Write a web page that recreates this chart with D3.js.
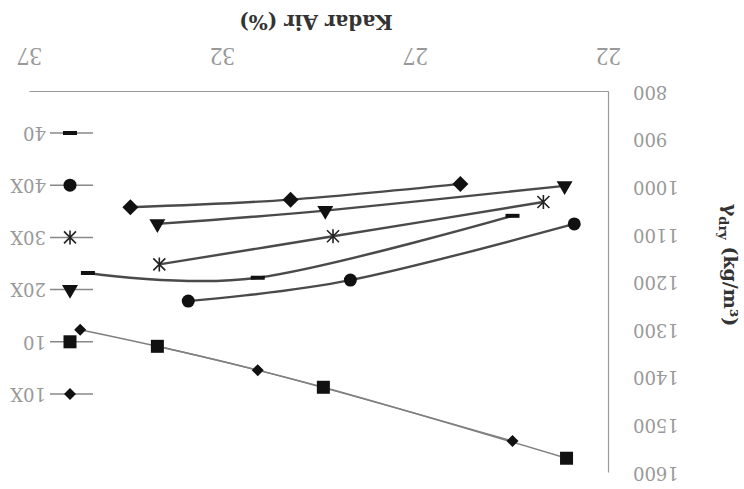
<!DOCTYPE html>
<meta charset="utf-8">
<head>
  <title>Kadar Air vs Berat Isi Kering</title>
</head>
<style>
body { margin: 0; background: #fff; }
.axis path { stroke: #999; stroke-width: 1.2px; }
.tick text { fill: #999; }
.curve { fill: none; stroke: #4a4a4a; stroke-width: 2.4px; }
.curve.low { stroke: #808080; stroke-width: 1.5px; }
.legend line { stroke: #888; stroke-width: 1.5px; }
.legend text { fill: #999; font-family: "DejaVu Serif"; font-size: 18px; }
</style>
<body>
<script src="https://d3js.org/d3.v7.min.js"></script>
<script>

// tick labels
var xTicks = [22, 27, 32, 37];
var yTicks = [800, 900, 1000, 1100, 1200, 1300, 1400, 1500, 1600];

// Kadar Air (%) and gamma dry (kg/m3) per series
var ka10X = [35.7, 31.1, 24.5];
var gd10X = [1299, 1384, 1533];
var ka10  = [33.7, 29.4, 23.1];
var gd10  = [1334, 1420, 1569];
var ka20X = [33.7, 29.35, 23.15];
var gd20X = [1077, 1049, 997];
var ka30X = [33.65, 29.15, 23.7];
var gd30X = [1162, 1103, 1031];
var ka40X = [32.9, 28.7, 22.9];
var gd40X = [1239, 1195, 1077];
var ka40  = [35.5, 31.1, 24.5];
var gd40  = [1180, 1190, 1060];
// extra series drawn without legend entry
var kaD   = [34.4, 30.25, 25.85];
var gdD   = [1042, 1026, 993];

var lines = [
  {name: "10X", ka: ka10X, gd: gd10X, marker: "diamondS", low: true,  legend: true},
  {name: "10",  ka: ka10,  gd: gd10,  marker: "square",   low: true,  legend: true},
  {name: "20X", ka: ka20X, gd: gd20X, marker: "triangle", low: false, legend: true},
  {name: "30X", ka: ka30X, gd: gd30X, marker: "star",     low: false, legend: true},
  {name: "40X", ka: ka40X, gd: gd40X, marker: "circle",   low: false, legend: true},
  {name: "40",  ka: ka40,  gd: gd40,  marker: "dash",     low: false, legend: true},
  {name: "",    ka: kaD,   gd: gdD,   marker: "diamond",  low: false, legend: false}
];

var W = 744, H = 489;

var x = d3.scaleLinear().domain([22, 37]).range([135, 714]);
var y = d3.scaleLinear().domain([800, 1600]).range([397, 16]);

var svg = d3.select("body").append("svg")
    .attr("width", W)
    .attr("height", H);

// the scanned figure is upside down, so draw normally and turn it round
var g = svg.append("g")
    .attr("transform", "rotate(180," + W / 2 + "," + H / 2 + ")");

// axes
g.append("g")
    .attr("class", "axis")
    .attr("transform", "translate(0," + y(800) + ")")
    .call(d3.axisBottom(x).tickValues(xTicks).tickSize(0).tickSizeOuter(0))
  .selectAll("text")
    .attr("y", 35)
    .attr("dy", "0.35em")
    .style("font-family", "Liberation Serif")
    .style("font-size", "25px");

g.append("g")
    .attr("class", "axis")
    .attr("transform", "translate(" + x(22) + ",0)")
    .call(d3.axisLeft(y).tickValues(yTicks).tickFormat(d3.format("d"))
            .tickSize(0).tickSizeOuter(0).tickPadding(24))
  .selectAll("text")
    .style("font-family", "DejaVu Serif")
    .style("font-size", "18px");

// axis titles
g.append("text")
    .attr("x", 428)
    .attr("y", 467)
    .attr("dy", "0.35em")
    .attr("text-anchor", "middle")
    .attr("fill", "#333")
    .style("font-family", "DejaVu Serif")
    .style("font-weight", "bold")
    .style("font-size", "20px")
    .text("Kadar Air (%)");

var yt = g.append("text")
    .attr("transform", "translate(13,224) rotate(-90)")
    .attr("dy", "0.35em")
    .attr("text-anchor", "middle")
    .attr("fill", "#333")
    .style("font-family", "DejaVu Serif")
    .style("font-weight", "bold")
    .style("font-size", "19px");
yt.append("tspan").text("\u03b3");
yt.append("tspan").attr("dy", 5).style("font-size", "13px").text("dry");
yt.append("tspan").attr("dy", -5).text(" (kg/m\u00b3)");

// markers
function drawMarker(sel, type, cx, cy) {
  if (type === "circle") {
    sel.append("circle").attr("cx", cx).attr("cy", cy).attr("r", 6.5).attr("fill", "#111");
  } else if (type === "square") {
    sel.append("rect").attr("x", cx - 6.5).attr("y", cy - 6.5)
        .attr("width", 13).attr("height", 13).attr("fill", "#111");
  } else if (type === "diamond" || type === "diamondS") {
    var r = type === "diamond" ? 8 : 6;
    sel.append("path")
        .attr("d", "M" + cx + "," + (cy - r) + "L" + (cx + r) + "," + cy +
                   "L" + cx + "," + (cy + r) + "L" + (cx - r) + "," + cy + "Z")
        .attr("fill", "#111");
  } else if (type === "triangle") {
    sel.append("path")
        .attr("d", d3.symbol().type(d3.symbolTriangle).size(110)())
        .attr("transform", "translate(" + cx + "," + cy + ")")
        .attr("fill", "#111");
  } else if (type === "star") {
    var s = 6;
    sel.append("path")
        .attr("d", "M" + (cx - s) + "," + (cy - s) + "L" + (cx + s) + "," + (cy + s) +
                   "M" + (cx - s) + "," + (cy + s) + "L" + (cx + s) + "," + (cy - s) +
                   "M" + cx + "," + (cy - s - 1) + "L" + cx + "," + (cy + s + 1))
        .attr("stroke", "#222").attr("stroke-width", 1.6).attr("fill", "none");
  } else if (type === "dash") {
    sel.append("rect").attr("x", cx - 7).attr("y", cy - 2)
        .attr("width", 14).attr("height", 4).attr("fill", "#111");
  }
}

var curve = d3.line()
    .curve(d3.curveCatmullRom.alpha(0))
    .x(function(d) { return x(d[0]); })
    .y(function(d) { return y(d[1]); });

lines.forEach(function(s) {
  var pts = s.ka.map(function(k, i) { return [k, s.gd[i]]; });
  g.append("path")
      .datum(pts)
      .attr("class", s.low ? "curve low" : "curve")
      .attr("d", curve);
});

lines.forEach(function(s) {
  var mg = g.append("g");
  s.ka.forEach(function(k, i) { drawMarker(mg, s.marker, x(k), y(s.gd[i])); });
});

// legend
var legend = g.append("g").attr("class", "legend");
var legendY = d3.scalePoint()
    .domain(lines.filter(function(s) { return s.legend; }).map(function(s) { return s.name; }))
    .range([95, 356]);

lines.filter(function(s) { return s.legend; }).forEach(function(s) {
  var ly = legendY(s.name);
  legend.append("line")
      .attr("x1", 651).attr("x2", 694)
      .attr("y1", ly).attr("y2", ly);
  drawMarker(legend, s.marker, 674, ly);
  legend.append("text")
      .attr("x", 698)
      .attr("y", ly)
      .attr("dy", "0.35em")
      .text(s.name);
});

</script>
</body>
